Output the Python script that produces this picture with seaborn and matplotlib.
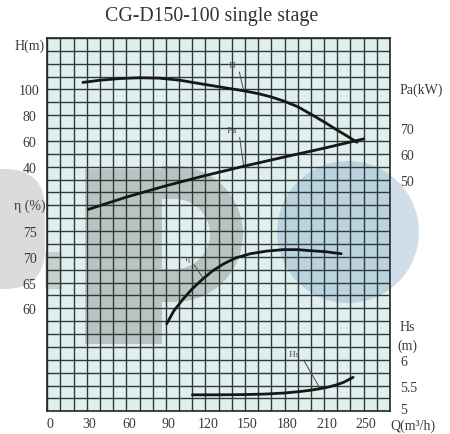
import numpy as np
import matplotlib
matplotlib.use("Agg")
import matplotlib.pyplot as plt
import seaborn as sns
from matplotlib.transforms import Affine2D, ScaledTranslation
from matplotlib.patches import FancyBboxPatch, Rectangle, Wedge, Circle

# ---------------- data ----------------
title = "CG-D150-100 single stage"
q_ticks = [0, 30, 60, 90, 120, 150, 180, 210, 240]
q_tick_labels = ["0", "30", "60", "90", "120", "150", "180", "210", "250"]
h_ticks = [40, 60, 80, 100]
eta_ticks = [60, 65, 70, 75]
pa_ticks = [50, 60, 70]
hs_ticks = [5, 5.5, 6]
hs_tick_labels = ["5", "5.5", "6"]

# H (head, m)
q_head = [27, 40, 55, 70, 85, 100, 116, 132, 149, 160, 170, 180, 190, 200, 210, 220, 228, 235]
head = [105.5, 107.2, 108.5, 109.1, 108.8, 107.3, 104.5, 101.8, 99.0, 96.8, 94.2, 90.8,
        86.6, 80.8, 74.8, 68.4, 63.5, 59.0]
# Pa (shaft power, kW)
q_pa = [31, 60, 90, 120, 150, 180, 210, 240]
power = [38.4, 43.2, 47.6, 51.6, 55.3, 58.8, 62.2, 65.8]
# eta (efficiency, %)
q_eta = [90.6, 96, 103, 110, 118, 125, 133.5, 143, 154, 166, 179, 190, 199, 211, 223]
eta = [57.0, 59.5, 61.8, 63.8, 65.7, 67.2, 68.6, 69.8, 70.6, 71.1, 71.4, 71.4, 71.2, 71.0, 70.6]
# Hs (suction head, m)
q_hs = [110, 130, 150, 165, 180, 192, 200, 207, 213, 219, 225, 232]
hs = [5.32, 5.32, 5.325, 5.335, 5.355, 5.385, 5.41, 5.44, 5.47, 5.51, 5.565, 5.66]

# ---------------- style ----------------
sns.set_theme(style="white")
plt.rcParams["font.family"] = ["Liberation Serif", "DejaVu Serif"]

TXT = "#3a3a3a"
LINE = "#161616"
GRID = "#2e3a3a"
FS = 10

fig = plt.figure(figsize=(4.5, 4.35), dpi=100)
W, Hpx = 450, 435
L, R, T, B = 47.3, 390.0, 39.0, 412.3
ax = fig.add_axes([L / W, (Hpx - B) / Hpx, (R - L) / W, (B - T) / Hpx])
ax.set_facecolor("#e0efed")

axE = ax.twinx()
axP = ax.twinx()
axS = ax.twinx()

# curves
sns.lineplot(x=q_head, y=head, ax=ax, color=LINE, lw=2.0, sort=False, zorder=5)
sns.lineplot(x=q_pa, y=power, ax=axP, color=LINE, lw=2.0, sort=False, zorder=5)
sns.lineplot(x=q_eta, y=eta, ax=axE, color=LINE, lw=2.0, sort=False, zorder=5)
sns.lineplot(x=q_hs, y=hs, ax=axS, color=LINE, lw=2.0, sort=False, zorder=5)
for a in (ax, axE, axP, axS):
    a.set_xlabel("")
    a.set_ylabel("")

ax.set_xlim(0, 260)
ax.set_ylim(-150, 140)
axE.set_ylim(40, 112.5)
axP.set_ylim(-40, 105)
axS.set_ylim(5, 12.25)

# grid
ax.set_xticks(np.arange(0, 261, 10), minor=True)
ax.set_yticks(np.arange(-150, 141, 10), minor=True)
ax.set_axisbelow(True)
ax.grid(which="both", color=GRID, lw=1.0)
for s in ax.spines.values():
    s.set_color("#262626")
    s.set_linewidth(1.2)
for a in (axE, axP, axS):
    for s in a.spines.values():
        s.set_visible(False)
    a.grid(False)

# ticks
ax.set_xticks(q_ticks, labels=q_tick_labels)
ax.set_yticks(h_ticks, labels=[str(v) for v in h_ticks])
axE.yaxis.tick_left()
axE.set_yticks(eta_ticks, labels=[str(v) for v in eta_ticks])
axP.set_yticks(pa_ticks, labels=[str(v) for v in pa_ticks])
axS.set_yticks(hs_ticks, labels=hs_tick_labels)

ax.tick_params(axis="x", which="both", length=0, pad=4.0, labelsize=FS, labelcolor=TXT)
ax.tick_params(axis="y", which="both", length=0, pad=12.8, labelsize=FS, labelcolor=TXT)
axE.tick_params(axis="y", length=0, pad=12.8, labelsize=FS, labelcolor=TXT)
for a in (axP, axS):
    a.tick_params(axis="y", length=0, pad=7.2, labelsize=FS, labelcolor=TXT)
plt.setp(ax.get_yticklabels(), ha="center")
plt.setp(axE.get_yticklabels(), ha="center")
# x labels sit slightly right of their grid lines in the reference
for lbl in ax.get_xticklabels():
    lbl.set_transform(lbl.get_transform() + ScaledTranslation(2.5 / 100, 0, fig.dpi_scale_trans))
# lowest Hs label is lifted a little above the axis bottom
low = axS.get_yticklabels()[0]
low.set_transform(low.get_transform() + ScaledTranslation(0, 3.5 / 100, fig.dpi_scale_trans))

# curve labels with leaders
PX = 0.72  # px -> pt at 100 dpi
def leader(a, label, qx, qs, vs, dx, dy, angB):
    y = float(np.interp(qx, qs, vs))
    a.annotate(label, xy=(qx, y), xytext=(dx * PX, dy * PX), textcoords="offset points",
               ha="left", va="bottom", fontsize=6.5, color="#4a4a4a",
               arrowprops=dict(arrowstyle="-", color="#4a4a4a", lw=0.7, shrinkA=0, shrinkB=0,
                               relpos=(0, 0),
                               connectionstyle=f"angle,angleA=0,angleB={angB},rad=0"))

leader(ax, " H ", 149, q_head, head, -17, 22, 103)
leader(axP, " Pa ", 149, q_pa, power, -19, 32, 98)
leader(axE, " \u03b7 ", 118.4, q_eta, eta, -20, 17, 124)
leader(axS, " Hs ", 207, q_hs, hs, -33, 31, 120)

# axis titles
def side_text(a, txt, yval, dx_pt, ha):
    a.annotate(txt, xy=(0 if ha == "center" else 1, yval), xycoords=("axes fraction", "data"),
               xytext=(dx_pt, 0), textcoords="offset points", ha=ha, va="center",
               fontsize=FS, color=TXT)

side_text(ax, "H(m)", 134, -12.8, "center")
side_text(axE, "\u03b7 (%)", 80, -12.8, "center")
side_text(axP, "Pa(kW)", 85, 7.2, "left")
side_text(axS, "Hs", 6.64, 7.2, "left")
side_text(axS, "(m)", 6.29, 5.2, "left")
ax.annotate("Q(m\u00b3/h)", xy=(1, 0), xycoords="axes fraction", xytext=(0, -10.0),
            textcoords="offset points", ha="left", va="center", fontsize=FS, color=TXT)

fig.text(212 / W, 1 - 17 / Hpx, title, ha="center", va="center", fontsize=14.3, color="#333333")

# ---------------- faint background watermark (decoration) ----------------
pix = Affine2D().scale(1.0 / W, -1.0 / Hpx).translate(0, 1) + fig.transFigure
wm = [
    FancyBboxPatch((-60, 170), 105, 120, boxstyle="round,pad=0,rounding_size=40",
                   fc="#808080", ec="none", alpha=0.28),
    Rectangle((45, 253), 17, 37, fc="#808080", ec="none", alpha=0.28),
    Rectangle((85, 170), 77, 175, fc="#707070", ec="none", alpha=0.34),
    Wedge((175, 235), 68, -90, 90, width=33, fc="#707070", ec="none", alpha=0.34),
    Rectangle((162, 167), 13, 33, fc="#707070", ec="none", alpha=0.34),
    Rectangle((162, 270), 13, 33, fc="#707070", ec="none", alpha=0.34),
    Circle((348, 233), 71, fc="#6f9cc4", ec="none", alpha=0.33),
]
for p in wm:
    p.set_transform(pix)
    p.set_clip_on(False)
    p.set_zorder(0.3)
    ax.add_artist(p)

fig.savefig("out.png", dpi=100, facecolor="white")
